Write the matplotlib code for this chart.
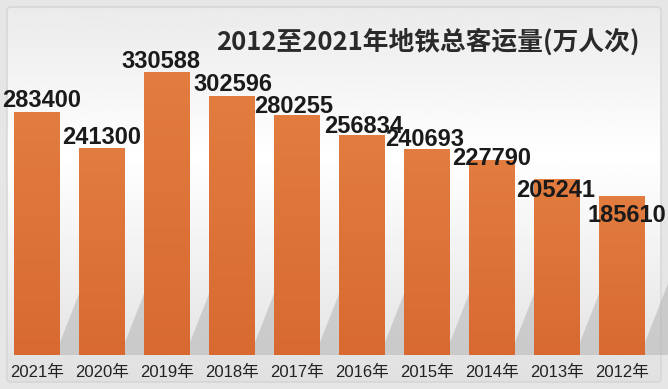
import matplotlib
matplotlib.use("Agg")
import matplotlib.pyplot as plt
from matplotlib.patches import FancyBboxPatch, Polygon
from matplotlib.colors import LinearSegmentedColormap
from matplotlib.transforms import offset_copy
import numpy as np

years = ['2021年', '2020年', '2019年', '2018年', '2017年',
         '2016年', '2015年', '2014年', '2013年', '2012年']
riders = [283400, 241300, 330588, 302596, 280255,
          256834, 240693, 227790, 205241, 185610]
title = '2012至2021年地铁总客运量(万人次)'

# label nudges in pixels (x right, y up), as placed in the original
nudge_x = [5, 0, -6, 1, -3, 2, -2, 0, -1, 5]
nudge_y = [12, 11, 11, 11, 9, 9, 9, 2, -11, -19]

plt.rcParams['font.family'] = ['Noto Sans CJK SC', 'DejaVu Sans']

fig = plt.figure(figsize=(6.68, 3.89), dpi=100)
fig.patch.set_facecolor('#e6e6e6')

# background panel
bg = fig.add_axes([0, 0, 1, 1])
bg.set_xlim(0, 668)
bg.set_ylim(389, 0)
bg.axis('off')
grad = np.linspace(0, 1, 256).reshape(-1, 1)
panel = FancyBboxPatch((7, 7), 654, 375, boxstyle='round,pad=0,rounding_size=4',
                       facecolor='none', edgecolor='#d4d4d4', lw=1)
bg.add_patch(panel)
img = bg.imshow(1 - 0.10 * np.abs(grad - 0.4) * 2, cmap='gray', vmin=0, vmax=1,
                extent=(7, 661, 382, 7), aspect='auto')
img.set_clip_path(panel)

ax = fig.add_axes([0, 34 / 389, 1, 1 - 34 / 389])
ax.patch.set_alpha(0)
x = np.arange(len(years))
xlim = (-37 / 65, (668 - 37) / 65)
ylim = (0, 355 / 283 * 330588)

# soft diagonal shadows behind bars
for xi, v in zip(x, riders):
    h = min(v, 140000)
    sh = Polygon([(xi + 0.3, 0), (xi + 0.35, h * 0.1), (xi + 1.0, h), (xi + 1.15, h * 0.8), (xi + 0.7, 0)],
                 closed=True, facecolor='#b0b0b0', edgecolor='none', alpha=0.5, zorder=1)
    ax.add_patch(sh)

bars = ax.bar(x, riders, width=46 / 65, color='#e07a3e', zorder=2)
bar_grad = np.linspace(0, 1, 100).reshape(-1, 1)
cm = LinearSegmentedColormap.from_list('o', ['#e27c3f', '#d86a31'])
for b in bars:
    im = ax.imshow(bar_grad, cmap=cm, aspect='auto', zorder=3,
                   extent=(b.get_x(), b.get_x() + b.get_width(), 0, b.get_height()),
                   origin='upper')
    im.set_clip_path(b)

ax.set_xlim(*xlim)
ax.set_ylim(*ylim)

for xi, v, dx, dy in zip(x, riders, nudge_x, nudge_y):
    tr = offset_copy(ax.transData, fig=fig, x=dx, y=dy, units='dots')
    ax.text(xi, v, str(v), transform=tr, ha='center', va='center', fontsize=17,
            fontweight='bold', family='Liberation Sans', color='#1a1a1a', zorder=4)

ax.set_xticks(x)
ax.set_xticklabels(years, fontsize=12, color='#222222',
                   family=['Liberation Sans', 'Noto Sans CJK SC'])
ax.tick_params(axis='x', length=0, pad=7)
ax.set_yticks([])
for s in ax.spines.values():
    s.set_visible(False)

fig.text(0.958, 0.893, title, ha='right', va='center', fontsize=18.5,
         fontweight='bold', color='#2a2a2a')

plt.savefig('out.png', dpi=100, facecolor=fig.get_facecolor())
